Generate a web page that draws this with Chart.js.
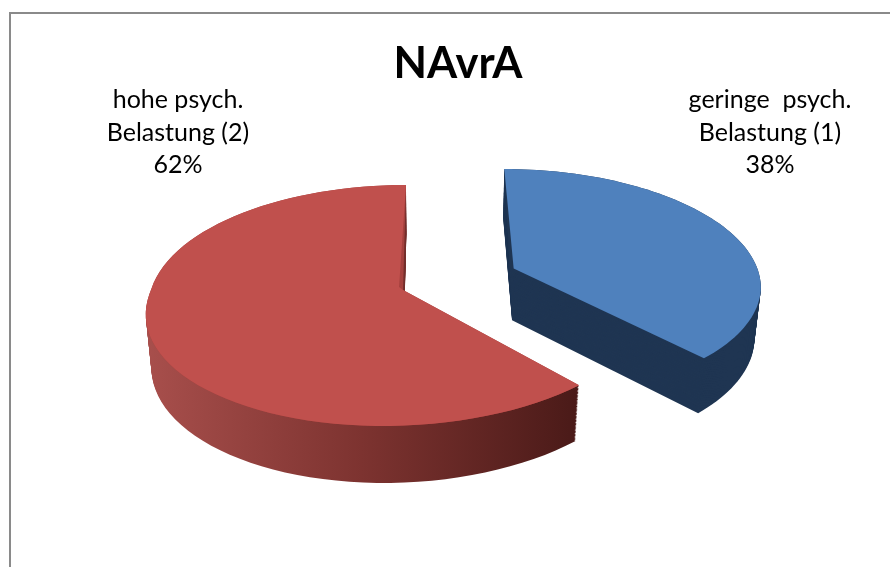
<!DOCTYPE html>
<html>
<head>
<meta charset="utf-8">
<style>
  html, body { margin: 0; padding: 0; background: #fff; overflow: hidden; }
  #wrap { position: relative; width: 890px; height: 567px; }
  #frame { position: absolute; left: 9px; top: 12px; width: 900px; height: 600px; border: 2px solid #8a8a8a; }
  canvas { position: absolute; left: 0; top: 0; }
</style>
<script src="https://cdn.jsdelivr.net/npm/chart.js@4/dist/chart.umd.min.js"></script>
</head>
<body>
<div id="wrap">
  <div id="frame"></div>
  <canvas id="chart" width="890" height="567"></canvas>
</div>
<script>
const categories = ['geringe  psych. Belastung (1)', 'hohe psych. Belastung (2)'];
const shares = [38, 62];
const labelLines = [
  ['geringe  psych.', 'Belastung (1)', '38%'],
  ['hohe psych.', 'Belastung (2)', '62%'],
];
const chartTitle = 'NAvrA';

const topColors = ['#4f81bd', '#c0504d'];

// perspective of the pie plane, fitted by eye to the picture
const view = { xc: 429, y0: 290, F: 252, B: 118.5, K: 0.1286, Z: 0.02, H: 53.5 };
// where each slice sits on the plane (radius = r), lean pulls the near side left
const placement = [
  { u: 0.344, v: -0.185, r: 0.99, lean: 3, wallShift: [-4, -1], notch: null, inner: '#1f3552' },
  { u: -0.103, v: 0, r: 1, lean: 16, wallShift: [0, 0], notch: [-4, -3], inner: '#a5413e' },
];
const labelAnchors = [{ x: 770, y: 100 }, { x: 178, y: 100 }];
const lineGap = 32.5;

function project(u, v, z, lean) {
  const w = 1 - view.K * v + view.Z * z;
  return [view.xc + view.F * u / w - lean * Math.max(v, 0), view.y0 + (view.B * v + view.H * z) / w];
}

// outline of a slice, angles come from the arc element chart.js laid out
function slicePath(ctx, arc, place, z, shift, notch) {
  const apex = project(place.u, place.v, z, place.lean);
  const steps = 80;
  ctx.beginPath();
  ctx.moveTo(apex[0] + shift[0], apex[1] + shift[1]);
  for (let i = 0; i <= steps; i++) {
    const a = arc.startAngle + (arc.endAngle - arc.startAngle) * i / steps;
    const p = project(place.u + place.r * Math.cos(a), place.v + place.r * Math.sin(a), z, place.lean);
    ctx.lineTo(p[0], p[1]);
  }
  if (notch) ctx.lineTo(apex[0] + notch[0], apex[1] + notch[1]);
  ctx.closePath();
}

function wallFill(ctx, i) {
  if (i === 0) return '#1f3552';
  const g = ctx.createLinearGradient(145, 0, 578, 0);
  g.addColorStop(0, '#a84f4c');
  g.addColorStop(0.5, '#7d3330');
  g.addColorStop(1, '#4a1a18');
  return g;
}

const pie3d = {
  id: 'pie3d',
  beforeDatasetsDraw(chart) {
    const ctx = chart.ctx;
    const arcs = chart.getDatasetMeta(0).data;
    ctx.save();
    arcs.forEach((arc, i) => {
      const place = placement[i];
      const walls = wallFill(ctx, i);
      for (let s = 40; s >= 1; s--) {
        const z = s / 40;
        slicePath(ctx, arc, place, z, [place.wallShift[0] * (1 - z), place.wallShift[1] * (1 - z)], null);
        ctx.fillStyle = walls;
        ctx.fill();
      }
      slicePath(ctx, arc, place, 0, place.wallShift, null);
      ctx.fillStyle = place.inner;
      ctx.fill();
      slicePath(ctx, arc, place, 0, [0, 0], place.notch);
      ctx.fillStyle = arc.options.backgroundColor;
      ctx.fill();
    });
    ctx.restore();
    return false;
  },
  afterDraw(chart) {
    const ctx = chart.ctx;
    ctx.save();
    ctx.font = '25px Lato, sans-serif';
    ctx.fillStyle = '#000';
    ctx.textAlign = 'center';
    ctx.textBaseline = 'middle';
    labelLines.forEach((lines, i) => {
      lines.forEach((line, j) => {
        ctx.fillText(line, labelAnchors[i].x, labelAnchors[i].y + j * lineGap);
      });
    });
    ctx.restore();
  },
};

new Chart(document.getElementById('chart'), {
  type: 'pie',
  data: {
    labels: categories,
    datasets: [{ data: shares, backgroundColor: topColors, borderWidth: 0 }],
  },
  options: {
    responsive: false,
    animation: false,
    layout: { padding: { left: 26 } },
    plugins: {
      legend: { display: false },
      tooltip: { enabled: false },
      title: {
        display: true,
        text: chartTitle,
        fullSize: false,
        color: '#000',
        font: { family: 'Lato, sans-serif', size: 43.5, weight: 'bold' },
        padding: { top: 38, bottom: 10 },
      },
    },
  },
  plugins: [pie3d],
});
</script>
</body>
</html>
